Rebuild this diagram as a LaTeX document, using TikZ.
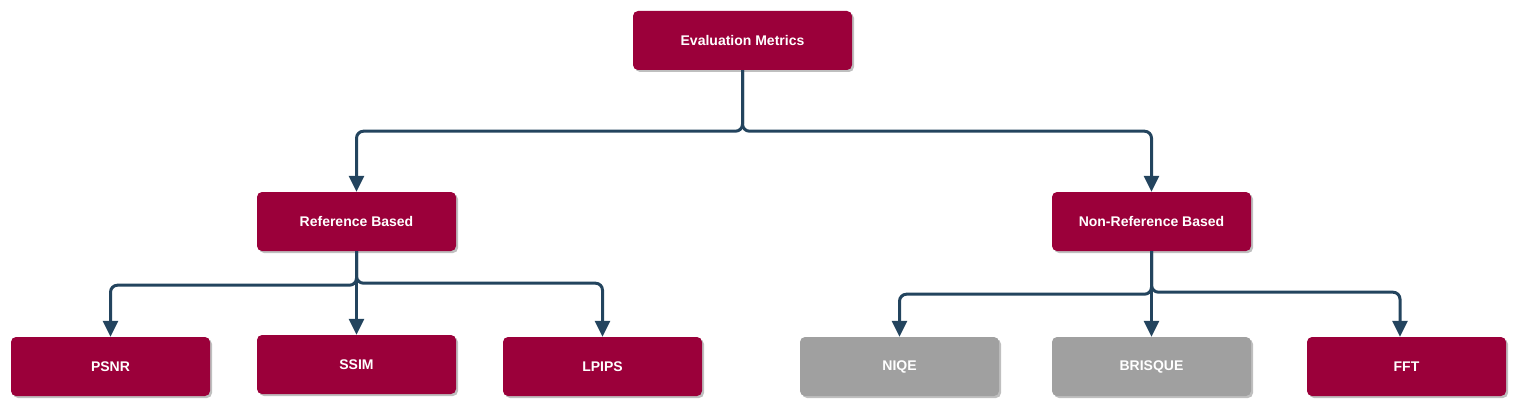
\documentclass[tikz,border=0pt]{standalone}
\usepackage{fontspec}
\setmainfont{Liberation Sans}
\usetikzlibrary{arrows.meta,calc,shadows}
\definecolor{crim}{HTML}{9B003A}
\definecolor{greybox}{HTML}{A0A0A0}
\definecolor{lineblue}{HTML}{23445E}
\begin{document}
\begin{tikzpicture}[x=1pt,y=1pt,
  box/.style={rounded corners=5pt, minimum width=199pt, minimum height=59pt,
    text=white, font=\fontsize{14}{16}\selectfont\bfseries, inner sep=0pt,
    drop shadow={shadow xshift=2pt, shadow yshift=-2pt, fill=black!25, opacity=1}},
  redbox/.style={box, fill=crim},
  graybox/.style={box, fill=greybox},
  conn/.style={draw=lineblue, line width=3pt, rounded corners=7pt,
    -{Triangle[width=15pt,length=16pt]}}]
\useasboundingbox (0,0) rectangle (1518,-409);
\node[redbox, minimum width=219pt] (em) at (742.5,-40.5) {Evaluation Metrics};
\node[redbox] (rb) at (356.5,-221.5) {Reference Based};
\node[redbox] (nrb) at (1151.5,-221.5) {Non-Reference Based};
\node[redbox] (psnr) at (110.5,-366.5) {PSNR};
\node[redbox] (ssim) at (356.5,-364.5) {SSIM};
\node[redbox] (lpips) at (602.5,-366.5) {LPIPS};
\node[graybox] (niqe) at (899.5,-366.5) {NIQE};
\node[graybox] (brisque) at (1151.5,-366.5) {BRISQUE};
\node[redbox] (fft) at (1406.5,-366.5) {FFT};

\draw[conn] (em.south) -- ($(em.south)+(0,-61)$) -| (rb.north);
\draw[conn] (em.south) -- ($(em.south)+(0,-61)$) -| (nrb.north);

\draw[conn] (rb.south) -- ($(rb.south)+(0,-34)$) -| (psnr.north);
\draw[conn] (rb.south) -- (ssim.north);
\draw[conn] (rb.south) -- ($(rb.south)+(0,-32)$) -| (lpips.north);

\draw[conn] (nrb.south) -- ($(nrb.south)+(0,-43)$) -| (niqe.north);
\draw[conn] (nrb.south) -- (brisque.north);
\draw[conn] (nrb.south) -- ($(nrb.south)+(0,-41)$) -| ([xshift=-6.5pt]fft.north);
\end{tikzpicture}
\end{document}
